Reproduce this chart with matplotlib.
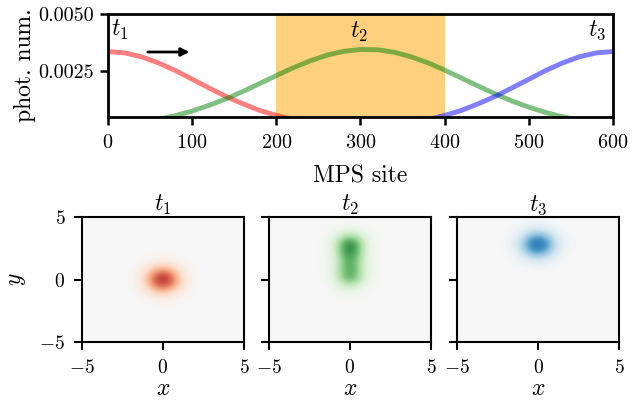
import numpy as np
import matplotlib
matplotlib.use("Agg")
import matplotlib.pyplot as plt

plt.rcParams['font.family'] = 'serif'
plt.rcParams['font.serif'] = ['cmr10']
plt.rcParams['mathtext.fontset'] = 'cm'
plt.rcParams['axes.formatter.use_mathtext'] = True

# photon number along the MPS chain (every 20 sites)
sites = np.arange(0, 601, 20)
phot_t1 = np.array([3.36, 3.30, 3.13, 2.86, 2.53, 2.15, 1.77, 1.40, 1.08, 0.79, 0.57,
                    0.39, 0.26, 0.17, 0.10, 0.06, 0.035, 0.02, 0.01, 0.0, 0.0, 0.0,
                    0.0, 0.0, 0.0, 0.0, 0.0, 0.0, 0.0, 0.0, 0.0]) * 1e-3
phot_t2 = np.array([0.12, 0.19, 0.28, 0.40, 0.56, 0.76, 1.01, 1.29, 1.61, 1.96, 2.31,
                    2.65, 2.95, 3.20, 3.37, 3.45, 3.44, 3.33, 3.13, 2.87, 2.55,
                    2.20, 1.85, 1.51, 1.20, 0.93, 0.70, 0.51, 0.36, 0.25, 0.17]) * 1e-3
phot_t3 = phot_t1[::-1]

# 2D profiles on a grid from -5 to 5, step 0.5 (x profile, y profile, peak)
red_x = [0, 0, 0, 0, 0, 0.002, 0.017, 0.10, 0.36, 0.775, 1.0, 0.775, 0.36, 0.10, 0.017, 0.002, 0, 0, 0, 0, 0]
red_y = [0, 0, 0, 0, 0, 0.002, 0.017, 0.10, 0.36, 0.775, 1.0, 0.775, 0.36, 0.10, 0.017, 0.002, 0, 0, 0, 0, 0]
green_x = [0, 0, 0, 0, 0, 0, 0.004, 0.044, 0.25, 0.71, 1.0, 0.71, 0.25, 0.044, 0.004, 0, 0, 0, 0, 0, 0]
green_y = [0, 0, 0, 0, 0, 0, 0, 0.02, 0.1, 0.35, 0.7, 0.8, 0.8, 0.8, 0.9, 1.0, 0.9, 0.5, 0.15, 0.02, 0.0]
blue_x = [0, 0, 0, 0, 0, 0.002, 0.021, 0.114, 0.381, 0.786, 1.0, 0.786, 0.381, 0.114, 0.021, 0.002, 0, 0, 0, 0, 0]
blue_y = [0, 0, 0, 0, 0, 0, 0, 0, 0, 0, 0, 0.006, 0.044, 0.196, 0.54, 0.917, 0.962, 0.623, 0.249, 0.062, 0.009]
peaks = [-0.8, 0.8, 0.8]
cmaps = ['RdBu', 'PRGn', 'RdBu']
titles = [r'$t_1$', r'$t_2$', r'$t_3$']

fig = plt.figure(figsize=(6.32, 4.07), dpi=100)

ax = fig.add_axes([0.1709, 0.7125, 0.799, 0.2531])
ax.axvspan(200, 400, color='orange', alpha=0.5, lw=0)
ax.plot(sites, phot_t1, color='red', alpha=0.5, lw=3.5)
ax.plot(sites, phot_t2, color='green', alpha=0.5, lw=3.5)
ax.plot(sites, phot_t3, color='blue', alpha=0.5, lw=3.5)
ax.set_xlim(0, 600)
ax.set_ylim(0.0005, 0.005)
ax.set_yticks([0.0025, 0.005])
ax.set_yticklabels(['0.0025', '0.0050'])
ax.set_xticks([0, 100, 200, 300, 400, 500, 600])
ax.tick_params(labelsize=14.5, width=1.8, length=6)
ax.tick_params(axis='x', pad=6)
ax.tick_params(axis='y', pad=4)
for s in ax.spines.values():
    s.set_linewidth(2)
ax.set_xlabel('MPS site', fontsize=17, labelpad=10)
ax.set_ylabel('phot. num.', fontsize=17, labelpad=2)
ax.text(14, 0.0043, r'$t_1$', fontsize=17, ha='center', va='center')
ax.text(298, 0.0042, r'$t_2$', fontsize=17, ha='center', va='center')
ax.text(581, 0.0043, r'$t_3$', fontsize=17, ha='center', va='center')
ax.annotate('', xy=(100, 0.00334), xytext=(44, 0.00334),
            arrowprops=dict(arrowstyle='-|>', color='black', lw=2, mutation_scale=12))

lefts = [0.1297, 0.4256, 0.7231]
profiles = [(red_x, red_y), (green_x, green_y), (blue_x, blue_y)]
for i in range(3):
    a = fig.add_axes([lefts[i], 0.1597, 0.2563, 0.307])
    px, py = profiles[i]
    img = np.outer(py, px) * peaks[i]
    a.imshow(img, origin='lower', extent=(-5.25, 5.25, -5.25, 5.25), cmap=cmaps[i],
             vmin=-1, vmax=1, interpolation='bicubic', aspect='auto')
    a.set_xlim(-5, 5)
    a.set_ylim(-5, 5)
    a.set_xticks([-5, 0, 5])
    a.set_yticks([-5, 0, 5])
    a.tick_params(labelsize=14, width=1.5, length=6, pad=6)
    for s in a.spines.values():
        s.set_linewidth(1.5)
    a.set_title(titles[i], fontsize=17, pad=3)
    a.set_xlabel(r'$x$', fontsize=17, labelpad=1)
    if i == 0:
        a.set_ylabel(r'$y$', fontsize=17, labelpad=8)
    else:
        a.set_yticklabels([])

fig.savefig('out.png', dpi=100)
